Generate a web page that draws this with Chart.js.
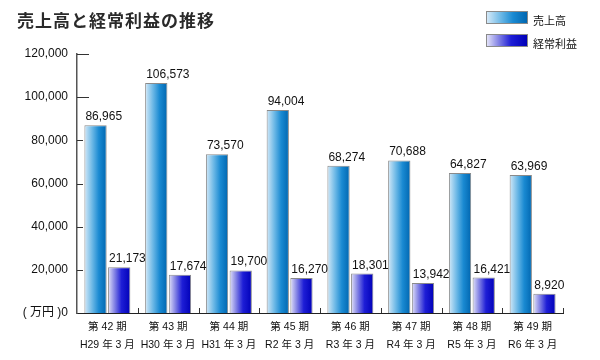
<!DOCTYPE html>
<html>
<head>
<meta charset="utf-8">
<script src="https://cdn.jsdelivr.net/npm/chart.js@4.4.1/dist/chart.umd.min.js"></script>
<style>
  html, body { margin: 0; padding: 0; background: #fff; }
  #wrap { position: relative; width: 600px; height: 360px; overflow: hidden; }
  #c { position: absolute; left: 0; top: 0; }
  #title { position: absolute; left: 17px; top: 10px; font: 700 17px/20px 'Noto Sans CJK JP', sans-serif; letter-spacing: 1px; color: #2a2a2a; white-space: nowrap; }
  .lg { position: absolute; left: 486px; width: 40px; height: 11px; border: 1px solid #8a8a8a; }
  .lt { position: absolute; left: 533px; font: 11px/14px 'Noto Sans CJK JP', sans-serif; color: #111; white-space: nowrap; }
</style>
</head>
<body>
<div id="wrap">
  <canvas id="c" width="600" height="360"></canvas>
  <div id="title"></div>
  <div class="lg" id="lg0" style="top:11px; background: linear-gradient(to right, #d4e9f8 0%, #6cb8e6 35%, #1a8ad2 65%, #0066b0 100%);"></div>
  <div class="lt" id="lt0" style="top:13px;"></div>
  <div class="lg" id="lg1" style="top:34px; background: linear-gradient(to right, #e2e2f8 0%, #8080e4 30%, #1e1ed6 60%, #0000b8 100%);"></div>
  <div class="lt" id="lt1" style="top:36px;"></div>
</div>
<script>
const chartTitle = '売上高と経常利益の推移';
const seriesNames = ['売上高', '経常利益'];
const periods = ['第 42 期', '第 43 期', '第 44 期', '第 45 期', '第 46 期', '第 47 期', '第 48 期', '第 49 期'];
const fiscalDates = ['H29 年 3 月', 'H30 年 3 月', 'H31 年 3 月', 'R2 年 3 月', 'R3 年 3 月', 'R4 年 3 月', 'R5 年 3 月', 'R6 年 3 月'];
const sales = [86965, 106573, 73570, 94004, 68274, 70688, 64827, 63969];
const ordinaryProfit = [21173, 17674, 19700, 16270, 18301, 13942, 16421, 8920];
const yTickLabels = ['( 万円 )0', '20,000', '40,000', '60,000', '80,000', '100,000', '120,000'];

document.getElementById('title').textContent = chartTitle;
document.getElementById('lt0').textContent = seriesNames[0];
document.getElementById('lt1').textContent = seriesNames[1];

const gradientStops = [
  [[0, '#d4e9f8'], [0.35, '#6cb8e6'], [0.65, '#1a8ad2'], [1, '#0066b0']],
  [[0, '#e2e2f8'], [0.3, '#8080e4'], [0.6, '#1e1ed6'], [1, '#0000b8']]
];

const barGradientPlugin = {
  id: 'barGradient',
  beforeDatasetsDraw(chart) {
    const ctx = chart.ctx;
    chart.data.datasets.forEach((ds, di) => {
      const meta = chart.getDatasetMeta(di);
      meta.data.forEach(el => {
        const p = el.getProps(['x', 'width'], true);
        const g = ctx.createLinearGradient(p.x - p.width / 2, 0, p.x + p.width / 2, 0);
        gradientStops[di].forEach(s => g.addColorStop(s[0], s[1]));
        el.options = Object.assign({}, el.options, { backgroundColor: g });
      });
    });
  }
};

const axisTicksPlugin = {
  id: 'axisTicks',
  afterDraw(chart) {
    const ctx = chart.ctx;
    const xs = chart.scales.x, ys = chart.scales.y;
    const area = chart.chartArea;
    ctx.save();
    ctx.strokeStyle = '#333';
    ctx.lineWidth = 1;
    ctx.beginPath();
    ys.ticks.forEach(t => {
      if (t.value === 0) return;
      const y = Math.round(ys.getPixelForValue(t.value)) + 0.5;
      const len = t.value >= 100000 ? 12 : 6;
      ctx.moveTo(area.left, y);
      ctx.lineTo(area.left + len, y);
    });
    for (let i = 1; i <= xs.ticks.length; i++) {
      const x = Math.round(xs.getPixelForValue(i - 0.5)) + 0.5;
      ctx.moveTo(x, area.bottom);
      ctx.lineTo(x, area.bottom - 5);
    }
    ctx.stroke();
    ctx.restore();
  }
};

const valueLabelPlugin = {
  id: 'valueLabels',
  afterDatasetsDraw(chart) {
    const ctx = chart.ctx;
    ctx.save();
    ctx.font = "12px 'Liberation Sans', 'Noto Sans CJK JP', sans-serif";
    ctx.fillStyle = '#111';
    ctx.textAlign = 'left';
    ctx.textBaseline = 'alphabetic';
    chart.data.datasets.forEach((ds, di) => {
      const meta = chart.getDatasetMeta(di);
      meta.data.forEach((el, i) => {
        const p = el.getProps(['x', 'y', 'width'], true);
        ctx.fillText(ds.data[i].toLocaleString('en-US'), p.x - p.width / 2 + 1, p.y - 5);
      });
    });
    ctx.restore();
  }
};

new Chart(document.getElementById('c'), {
  type: 'bar',
  data: {
    labels: periods.map((p, i) => [p, fiscalDates[i]]),
    datasets: [
      { label: seriesNames[0], data: sales, borderColor: '#8a8a8a', borderWidth: 1, borderSkipped: 'start', categoryPercentage: 0.78, barPercentage: 0.94 },
      { label: seriesNames[1], data: ordinaryProfit, borderColor: '#8a8a8a', borderWidth: 1, borderSkipped: 'start', categoryPercentage: 0.78, barPercentage: 0.94 }
    ]
  },
  options: {
    responsive: false,
    animation: false,
    devicePixelRatio: 1,
    layout: { padding: { top: 54, right: 37, left: 0, bottom: 0 } },
    plugins: { legend: { display: false }, tooltip: { enabled: false }, title: { display: false } },
    scales: {
      x: {
        grid: { display: false, drawTicks: false },
        border: { display: true, color: '#222', width: 1 },
        ticks: {
          color: '#111',
          padding: 5,
          maxRotation: 0,
          autoSkip: false,
          font: { family: "'Liberation Sans', 'Noto Sans CJK JP', sans-serif", size: 10.5, lineHeight: 1.75 }
        },
        afterFit(scale) { scale.height = 47; }
      },
      y: {
        min: 0, max: 120000,
        grid: { display: false, drawTicks: false },
        border: { display: true, color: '#555', width: 1.5 },
        ticks: {
          stepSize: 20000,
          padding: 9,
          color: '#111',
          font: { family: "'Liberation Sans', 'Noto Sans CJK JP', sans-serif", size: 12 },
          callback: (v, i) => yTickLabels[i]
        },
        afterFit(scale) { scale.width = 77; }
      }
    }
  },
  plugins: [barGradientPlugin, axisTicksPlugin, valueLabelPlugin]
});
</script>
</body>
</html>
